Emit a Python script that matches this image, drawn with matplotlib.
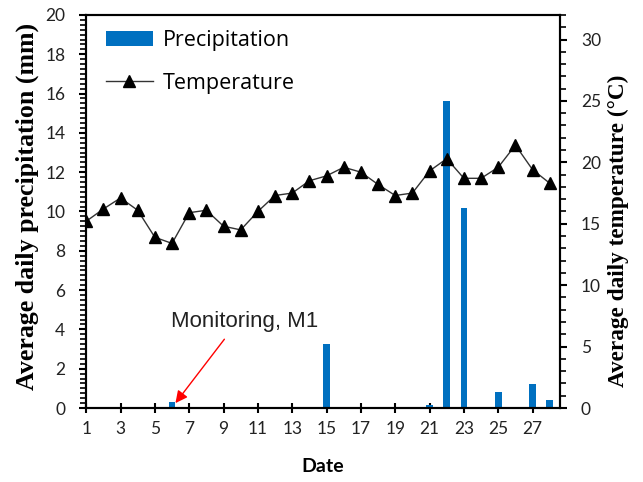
import matplotlib
matplotlib.use("Agg")
import matplotlib.pyplot as plt
from matplotlib.ticker import MultipleLocator

days = list(range(1, 29))
precip = [0, 0, 0, 0, 0, 0.3, 0, 0, 0, 0, 0, 0, 0, 0, 3.25, 0, 0, 0, 0, 0,
          0.15, 15.6, 10.2, 0, 0.8, 0, 1.2, 0.4]
temp = [15.2, 16.2, 17.1, 16.1, 13.9, 13.4, 15.9, 16.1, 14.8, 14.5, 16.0, 17.3,
        17.5, 18.5, 18.9, 19.6, 19.2, 18.2, 17.3, 17.5, 19.3, 20.3, 18.7, 18.7,
        19.6, 21.4, 19.4, 18.3]
xticks = list(range(1, 28, 2))

tick_font = "Lato"

fig = plt.figure(figsize=(6.43, 4.82), dpi=100)
ax = fig.add_axes([0.134, 0.1535, 0.737, 0.8155])
ax2 = ax.twinx()

ax.bar(days, precip, width=0.38, color="#0070C0", label="Precipitation", zorder=2)
ax2.plot(days, temp, color="#333333", lw=1.0, marker="^", markersize=8,
         markerfacecolor="black", markeredgecolor="black", label="Temperature", zorder=3)

ax.set_xlim(1, 28.6)
ax.set_ylim(0, 20)
ax2.set_ylim(0, 32)
ax.set_xticks(xticks)
ax.set_xticklabels([str(t) for t in xticks], fontfamily=tick_font, fontsize=12.5)
ax.yaxis.set_major_locator(MultipleLocator(2))
ax.yaxis.set_minor_locator(MultipleLocator(0.25))
ax2.yaxis.set_minor_locator(MultipleLocator(1))
ax2.set_yticks([0, 5, 10, 15, 20, 25, 30])

for lab in ax.get_yticklabels() + ax2.get_yticklabels():
    lab.set_fontfamily(tick_font)
    lab.set_fontsize(12.5)
    lab.set_color("#222222")
for lab in ax.get_xticklabels():
    lab.set_color("#222222")

ax.tick_params(axis="x", which="major", direction="inout", length=7, width=1.5, pad=6)
ax.tick_params(axis="y", which="major", direction="out", length=5, width=1.5, pad=10)
ax.tick_params(axis="y", which="minor", direction="out", length=4, width=1.2)
ax2.tick_params(axis="y", which="major", direction="out", length=5, width=1.5, pad=10)
ax2.tick_params(axis="y", which="minor", direction="out", length=4, width=1.2)

for a in (ax, ax2):
    for s in a.spines.values():
        s.set_linewidth(1.5)
        s.set_color("black")

ax.set_xlabel("Date", fontfamily=tick_font, fontweight="bold", fontsize=14, labelpad=15)
yl = ax.set_ylabel("Average daily precipitation (mm)", fontfamily="Liberation Serif",
                   fontweight="bold", fontsize=17)
ax.yaxis.set_label_coords(-0.10, 0.514)
yr = ax2.set_ylabel("Average daily temperature (°C)", fontfamily="Liberation Serif",
                    fontweight="bold", fontsize=16.8)
ax2.yaxis.set_label_coords(1.10, 0.45)

# scale label font sizes to match target lengths in pixels
fig.canvas.draw()
r = fig.canvas.get_renderer()
for lab, target in ((yl, 368), (yr, 313)):
    h = lab.get_window_extent(r).height
    lab.set_fontsize(lab.get_fontsize() * target / h)

ax.text(5.95, 4.4, "Monitoring, M1", fontsize=16, fontfamily="Liberation Sans",
        color="#222222", ha="left", va="center")
ax.annotate("", xy=(6.2, 0.25), xytext=(9.05, 3.5),
            arrowprops=dict(arrowstyle="-|>", color="red", lw=1.0,
                            mutation_scale=18, shrinkA=0, shrinkB=0))

h1, l1 = ax.get_legend_handles_labels()
h2, l2 = ax2.get_legend_handles_labels()
leg = ax.legend(h1 + h2, l1 + l2, loc="upper left", bbox_to_anchor=(0.0, 1.01),
                frameon=False, prop={"family": "Open Sans", "size": 15.5},
                handlelength=2.2, handletextpad=0.45, labelspacing=1.0)

fig.savefig("out.png", dpi=100)
